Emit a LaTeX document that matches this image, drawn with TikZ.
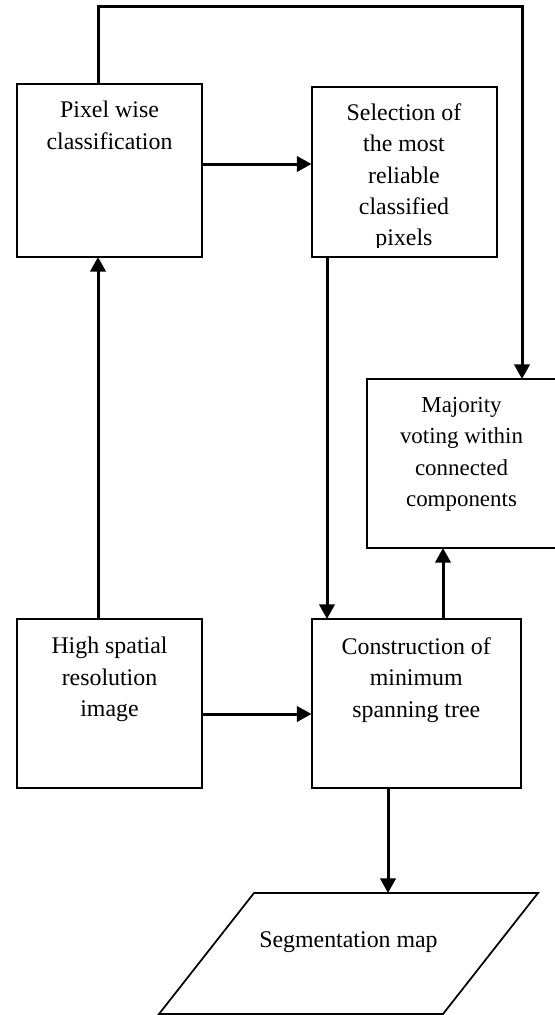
\documentclass[tikz,border=0pt]{standalone}
\usepackage{fontspec}
\setmainfont{Liberation Serif}
\usetikzlibrary{arrows.meta,calc}
\begin{document}
\begin{tikzpicture}[x=0.75pt,y=-0.75pt,
  box/.style={draw,line width=1.5pt,inner sep=0pt,outer sep=0pt},
  lbl/.style={align=center,inner sep=0pt,font=\fontsize{17.9}{23.6}\selectfont},
  lblsmall/.style={align=center,inner sep=0pt,font=\fontsize{17.2}{23.6}\selectfont},
  conn/.style={line width=2.25pt,-{Triangle[length=11pt,width=11.5pt]}}]
\useasboundingbox (0,0) rectangle (555,1015);
% boxes
\node[box,minimum width=138.75pt,minimum height=129.75pt] (pix) at (109.5,170.5) {};
\node[box,minimum width=138.75pt,minimum height=127.5pt] (sel) at (404,172) {};
\node[box,minimum width=141.75pt,minimum height=126.75pt] (maj) at (461.5,463.5) {};
\node[box,minimum width=138.75pt,minimum height=126.75pt] (hi) at (109.5,703.5) {};
\node[box,minimum width=157.1pt,minimum height=126.75pt] (con) at (416.25,703.5) {};
% parallelogram
\coordinate (s1) at (254,893);
\coordinate (s2) at (538,893);
\coordinate (s3) at (443,1014);
\coordinate (s4) at (159,1014);
\coordinate (segtop) at (388,893);
\draw[line width=1.3pt] (s1) -- (s2) -- (s3) -- (s4) -- cycle;
% labels
\node[lbl,anchor=north] (pixt) at ($(pix.north)+(0,17)$) {Pixel wise\\classification};
\begin{scope}
\clip (sel.north west) rectangle ($(sel.south east)+(0,-10)$);
\node[lbl,anchor=north] (selt) at ($(sel.north)+(0,16)$) {Selection of\\the most\\reliable\\classified\\pixels};
\end{scope}
\node[lblsmall,anchor=north] (majt) at ($(maj.north)+(0,18)$) {Majority\\voting within\\connected\\components};
\node[lbl,anchor=north] (hit) at ($(hi.north)+(0,18)$) {High spatial\\resolution\\image};
\node[lbl,anchor=north] (cont) at ($(con.north)+(0,18)$) {Construction of\\minimum\\spanning tree};
\node[lbl] (segt) at (348.5,942) {Segmentation map};
% connectors
\draw[conn] ($(pix.north west)+(81,0)$) -- ++(0,-78) -| ($(maj.north west)+(155,0)$);
\draw[conn] ($(pix.east)+(0,-6.5)$) coordinate (p1) -- (p1 -| sel.west);
\draw[conn] ($(sel.south west)+(15.5,0)$) coordinate (p2) -- (p2 |- con.north);
\draw[conn] ($(con.north west)+(131.5,0)$) coordinate (p3) -- (p3 |- maj.south);
\draw[conn] ($(hi.east)+(0,10.5)$) coordinate (p4) -- (p4 -| con.west);
\draw[conn] ($(hi.north west)+(81,0)$) coordinate (p5) -- (p5 |- pix.south);
\draw[conn] ($(con.south west)+(76.5,0)$) coordinate (p6) -- (p6 |- segtop);
\end{tikzpicture}
\end{document}
